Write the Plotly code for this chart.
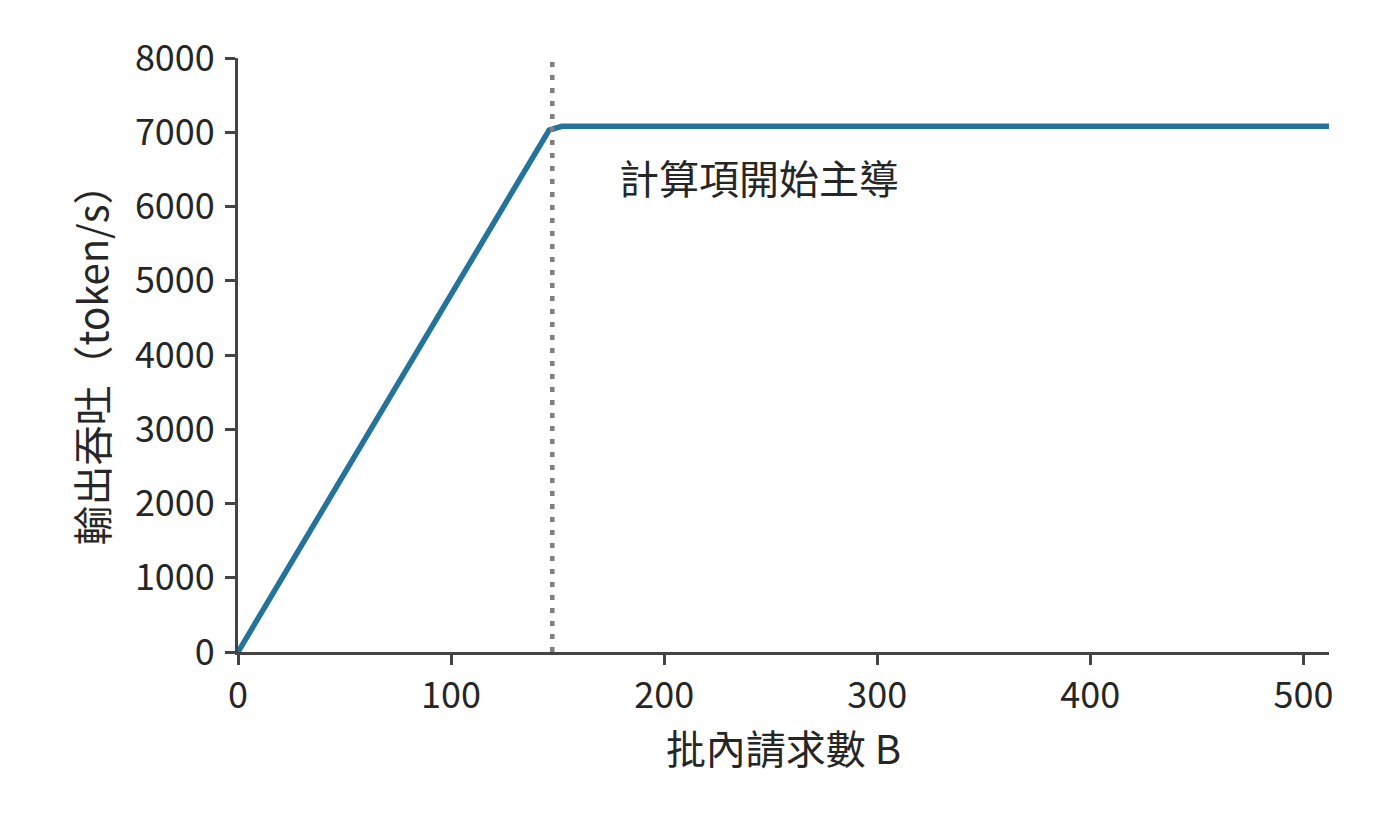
"""Roofline-style throughput vs batch size chart."""

import plotly.graph_objects as go

FONT = "Noto Sans CJK TC, Noto Sans, sans-serif"
TEXT_COLOR = "#262626"
AXIS_COLOR = "#444444"

batch_size = [0, 146, 152, 512]
throughput = [0, 7030, 7080, 7080]
ridge_b = 147.5
ridge_top = 7950

annotation_text = "計算項開始主導"
annotation_x = 178
annotation_y = 6400

x_ticks = [0, 100, 200, 300, 400, 500]
y_ticks = [0, 1000, 2000, 3000, 4000, 5000, 6000, 7000, 8000]

figure = go.Figure()
figure.add_trace(
    go.Scatter(
        x=batch_size,
        y=throughput,
        mode="lines",
        line=dict(color="#23739A", width=5.5),
        showlegend=False,
        hoverinfo="skip",
    )
)
figure.add_trace(
    go.Scatter(
        x=[ridge_b, ridge_b],
        y=[0, ridge_top],
        mode="lines",
        line=dict(color="#7f7f7f", width=4.5, dash="5px,8px"),
        showlegend=False,
        hoverinfo="skip",
    )
)
figure.add_annotation(
    x=annotation_x,
    y=annotation_y,
    text=annotation_text,
    showarrow=False,
    xanchor="left",
    yanchor="middle",
    font=dict(family=FONT, size=40, color=TEXT_COLOR),
)

axis_common = dict(
    showgrid=False,
    zeroline=False,
    showline=True,
    linecolor=AXIS_COLOR,
    linewidth=3,
    ticks="outside",
    ticklen=10,
    tickwidth=3,
    tickcolor=AXIS_COLOR,
    tickfont=dict(family=FONT, size=36, color=TEXT_COLOR),
)

figure.update_layout(
    width=1400,
    height=816,
    paper_bgcolor="white",
    plot_bgcolor="white",
    margin=dict(l=230, r=79, t=50, b=172),
    font=dict(family=FONT, color=TEXT_COLOR),
    xaxis=dict(
        range=[0, 512],
        tickvals=x_ticks,
        title=dict(text="批內請求數 B", font=dict(family=FONT, size=40, color=TEXT_COLOR), standoff=12),
        **axis_common,
    ),
    yaxis=dict(
        range=[0, 8000],
        tickvals=y_ticks,
        ticklabelstandoff=3,
        title=dict(text="輸出吞吐（token/s）", font=dict(family=FONT, size=40, color=TEXT_COLOR), standoff=14),
        **axis_common,
    ),
)

figure.write_html("out.html")
